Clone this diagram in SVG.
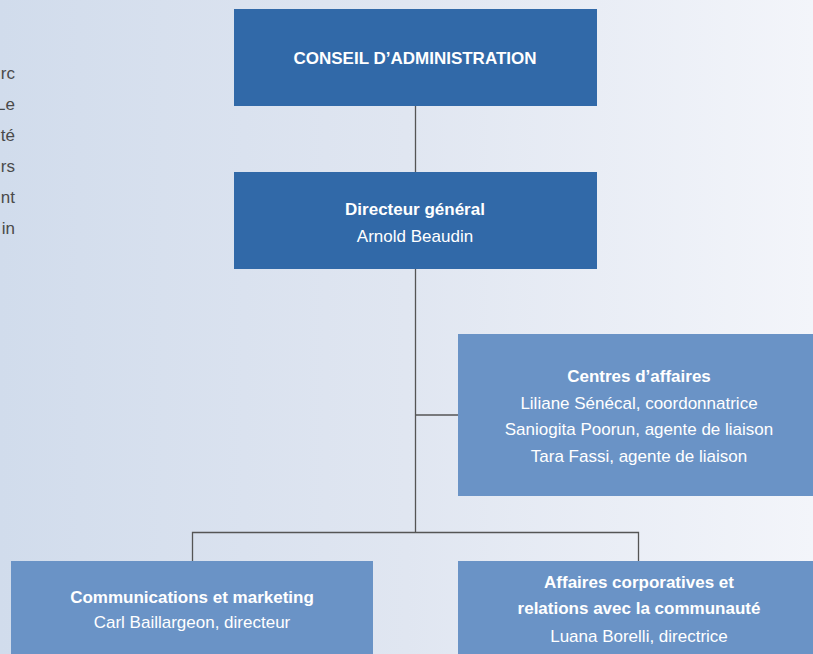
<svg xmlns="http://www.w3.org/2000/svg" width="813" height="654" viewBox="0 0 813 654">
<defs>
<linearGradient id="bg" x1="0" y1="0" x2="1" y2="0">
<stop offset="0" stop-color="#d1dcec"/>
<stop offset="0.5" stop-color="#e0e6f1"/>
<stop offset="1" stop-color="#f3f5fa"/>
</linearGradient>
<style>
.dark{fill:#3169a8}
.light{fill:#6a93c6}
.t{font-family:"Liberation Sans Narrow","Liberation Sans",Arial,sans-serif;fill:#ffffff;text-anchor:middle;font-size:17px}
.b{font-weight:bold}
.side{font-family:"Liberation Sans Narrow","Liberation Sans",Arial,sans-serif;fill:#4a4a4a;text-anchor:end;font-size:17px}
.c{stroke:#555555;stroke-width:1.3;fill:none}
</style>
</defs>
<rect x="0" y="0" width="813" height="654" fill="url(#bg)"/>
<g id="side-text">
<text class="side" x="15" y="79">rc</text>
<text class="side" x="15" y="110">Le</text>
<text class="side" x="15" y="141">té</text>
<text class="side" x="15" y="172">rs</text>
<text class="side" x="15" y="203">nt</text>
<text class="side" x="15" y="234">in</text>
</g>
<g id="connectors">
<path class="c" d="M415.5 106 V532"/>
<path class="c" d="M415.5 415 H458"/>
<path class="c" d="M192.5 561 V532.5 H638.5 V561"/>
</g>
<g id="conseil">
<rect class="dark" x="234" y="9" width="363" height="97"/>
<text class="t b" x="415" y="64">CONSEIL D’ADMINISTRATION</text>
</g>
<g id="directeur">
<rect class="dark" x="234" y="172" width="363" height="97"/>
<text class="t b" x="415" y="215">Directeur général</text>
<text class="t" x="415" y="242">Arnold Beaudin</text>
</g>
<g id="centres">
<rect class="light" x="458" y="334" width="355" height="162"/>
<text class="t b" x="639" y="382">Centres d’affaires</text>
<text class="t" x="639" y="409">Liliane Sénécal, coordonnatrice</text>
<text class="t" x="639" y="435">Saniogita Poorun, agente de liaison</text>
<text class="t" x="639" y="462">Tara Fassi, agente de liaison</text>
</g>
<g id="communications">
<rect class="light" x="11" y="561" width="362" height="93"/>
<text class="t b" x="192" y="603">Communications et marketing</text>
<text class="t" x="192" y="628">Carl Baillargeon, directeur</text>
</g>
<g id="affaires">
<rect class="light" x="458" y="561" width="355" height="93"/>
<text class="t b" x="639" y="588">Affaires corporatives et</text>
<text class="t" x="639" y="614" font-weight="bold">relations avec la communauté</text>
<text class="t" x="639" y="642">Luana Borelli, directrice</text>
</g>
</svg>
